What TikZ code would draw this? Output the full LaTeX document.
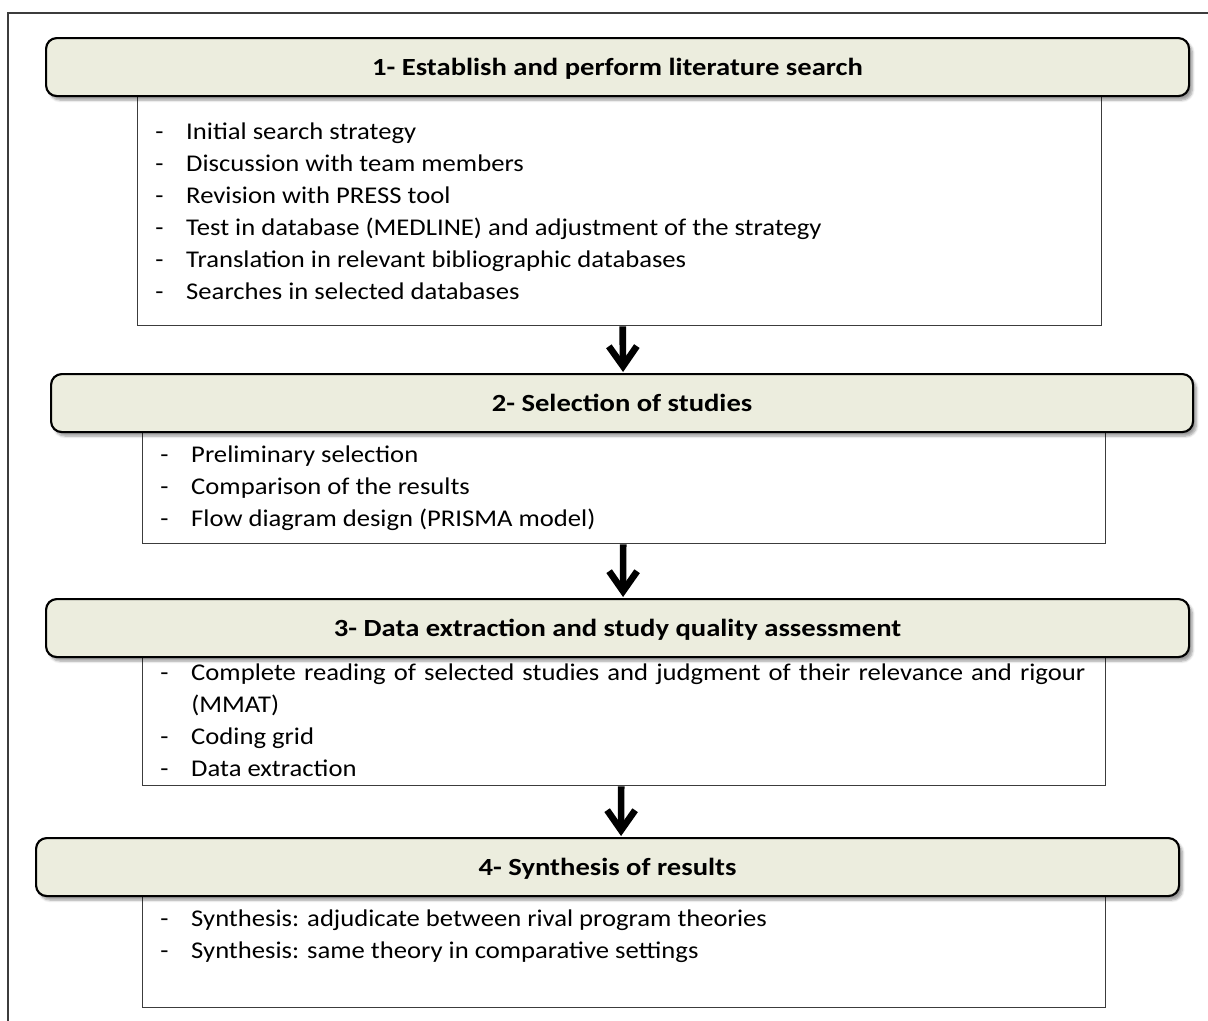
\documentclass[tikz,border=0pt]{standalone}
\usepackage{fontspec}
\setmainfont{Carlito}[FakeStretch=1.11]
\newfontfamily\hdrfont{Carlito}[FakeStretch=1.16]
\usetikzlibrary{arrows.meta,shadows.blur,calc}
\definecolor{hdrfill}{RGB}{236,237,222}
\definecolor{framegray}{RGB}{60,60,60}
\tikzset{
  hdr/.style={draw=black, line width=1.6pt, rounded corners=8pt, fill=hdrfill,
    minimum height=43.5pt, inner sep=0pt, anchor=north west,
    text height=15pt, text depth=3pt,
    font=\hdrfont\fontsize{18.5}{22}\selectfont\bfseries,
    blur shadow={shadow xshift=2.5pt, shadow yshift=-3pt, shadow blur steps=6, shadow opacity=40}},
  cbox/.style={draw=framegray, line width=1pt, inner sep=0pt, anchor=north west},
  ltext/.style={anchor=north west, inner sep=0pt, font=\fontsize{18}{24}\selectfont},
  bigarrow/.style={line width=5pt, -{Straight Barb[length=15pt,width=21pt]}}
}
\newcommand{\itemlist}[2]{\begin{tabular}{@{}p{23.25pt}@{}p{#1}@{}}#2\end{tabular}}
\begin{document}
\begin{tikzpicture}[x=0.75pt,y=-0.75pt]
\useasboundingbox (0,0) rectangle (1208,1021);
\draw[framegray, line width=1pt] (8,1021) -- (8,13) -- (1208,13);

% Step 1
\node[cbox, minimum width=723pt, minimum height=171.75pt] (b1) at (137,96) {};
\node[hdr, minimum width=857.25pt] (h1) at (45,37) {1- Establish and perform literature search};
\node[ltext] (t1) at ($(b1.north west)+(18,21)$) {\itemlist{650pt}{%
- & Initial search strategy\\
- & Discussion with team members\\
- & Revision with PRESS tool\\
- & Test in database (MEDLINE) and adjustment of the strategy\\
- & Translation in relevant bibliographic databases\\
- & Searches in selected databases}};

% Step 2
\node[cbox, minimum width=722.25pt, minimum height=84.75pt] (b2) at (142,430) {};
\node[hdr, minimum width=856.5pt] (h2) at (50,373) {2- Selection of studies};
\node[ltext] (t2) at ($(b2.north west)+(18,10)$) {\itemlist{650pt}{%
- & Preliminary selection\\
- & Comparison of the results\\
- & Flow diagram design (PRISMA model)}};

% Step 3
\node[cbox, minimum width=722.25pt, minimum height=97.5pt] (b3) at (142,655) {};
\node[hdr, minimum width=857.25pt] (h3) at (45,598) {3- Data extraction and study quality assessment};
\node[ltext] (t3) at ($(b3.north west)+(18,3)$) {\itemlist{670.5pt}{%
- & Complete reading of selected studies and judgment of their relevance and rigour\linebreak (MMAT)\\
- & Coding grid\\
- & Data extraction}};

% Step 4
\node[cbox, minimum width=722.25pt, minimum height=85.5pt] (b4) at (142,893) {};
\node[hdr, minimum width=857.25pt] (h4) at (35,837) {4- Synthesis of results};
\node[ltext] (t4) at ($(b4.north west)+(18,11)$) {\itemlist{650pt}{%
- & Synthesis: adjudicate between rival program theories\\
- & Synthesis: same theory in comparative settings}};

% Arrows
\draw[bigarrow] ($(b1.south)+(3,0)$) -- ($(h2.north)+(1,-1)$);
\draw[bigarrow] ($(b2.south)+(-1,0)$) -- ($(h3.north)+(5.5,-1)$);
\draw[bigarrow] ($(b3.south)+(-3,0)$) -- ($(h4.north)+(13.5,-1)$);
\end{tikzpicture}
\end{document}
